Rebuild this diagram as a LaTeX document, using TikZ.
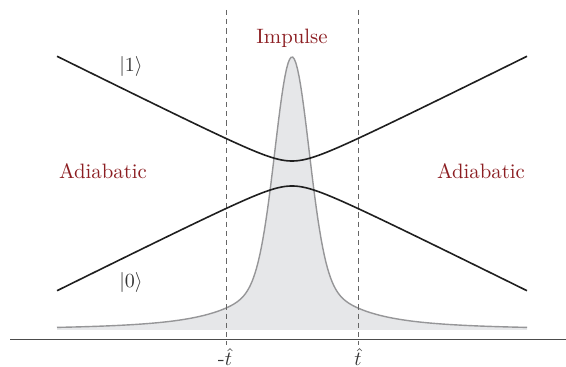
\documentclass[tikz,border=0pt]{standalone}
\usepackage{amsmath}
\definecolor{lbl}{RGB}{140,30,34}
\definecolor{pk}{RGB}{230,231,233}
\definecolor{pkline}{RGB}{150,150,152}
\begin{document}
\begin{tikzpicture}[x=0.5pt,y=-0.5pt,
  level/.style={line width=0.8pt,black!88},
  regime/.style={text=lbl,font=\fontsize{10.4}{12}\selectfont},
  guide/.style={gray!80!black,line width=0.5pt,dash pattern=on 2.6pt off 2pt},
  statelbl/.style={font=\fontsize{10.4}{12}\selectfont,text=black!80},
  declare function={pk(\u)=330-(213*exp(max(-((\u-292)/23.54)^2,-20))+60/(1+((\u-292)/50)^2));}]
\useasboundingbox (0,0) rectangle (566,367);
% peak
\fill[pk] plot[domain=57:527,samples=300] (\x,{pk(\x)}) -- (527,330) -- (57,330) -- cycle;
\draw[pkline,line width=0.7pt] plot[domain=57:527,samples=300] (\x,{pk(\x)});
% axis
\coordinate (axl) at (10,340);
\coordinate (axr) at (566,340);
\draw[black!70,line width=0.5pt] (axl) -- (axr);
% guides
\coordinate (g1t) at (226,10);
\coordinate (g1b) at (226,345);
\coordinate (g2t) at (358,10);
\coordinate (g2b) at (358,345);
\draw[guide] (g1t) -- (g1b);
\draw[guide] (g2t) -- (g2b);
% levels
\draw[level] plot[domain=57:527,samples=200] (\x,{173.5-sqrt((0.496*(\x-292))^2+156)});
\draw[level] plot[domain=57:527,samples=200] (\x,{173.5+sqrt((0.496*(\x-292))^2+156)});
% labels
\node[regime] (imp) at (292,38) {Impulse};
\node[regime] (adl) at (103,171) {Adiabatic};
\node[regime] (adr) at (481,171) {Adiabatic};
\node[statelbl] (s1) at (131,67) {$|1\rangle$};
\node[statelbl] (s0) at (131,283) {$|0\rangle$};
\node[statelbl,anchor=north,inner sep=0.5pt] (tm) at (225,347) {-$\hat{t}$};
\node[statelbl,anchor=north,inner sep=0.5pt] (tp) at (358,347) {$\hat{t}$};
\end{tikzpicture}
\end{document}
